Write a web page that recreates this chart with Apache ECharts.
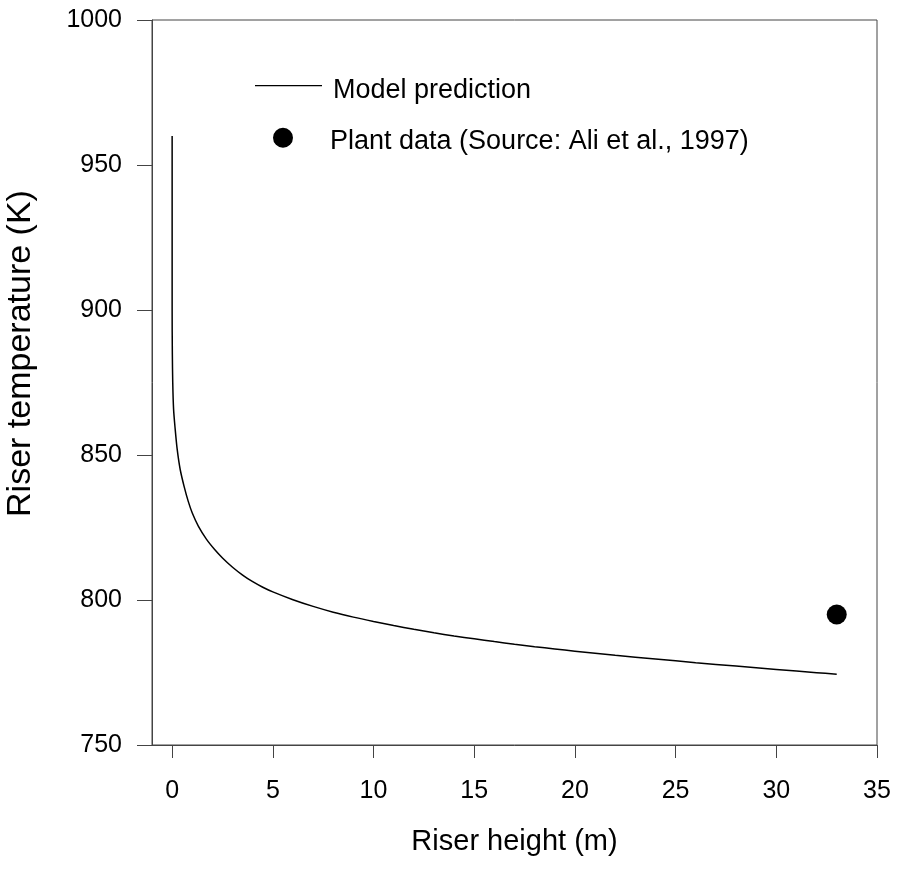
<!DOCTYPE html>
<html>
<head>
<meta charset="utf-8">
<script src="https://cdn.jsdelivr.net/npm/echarts@6/dist/echarts.min.js"></script>
<style>
html,body{margin:0;padding:0;background:#fff;}
#chart{width:897px;height:871px;}
</style>
</head>
<body>
<div id="chart"></div>
<script>
// Model prediction: riser height (m) vs riser temperature (K)
var modelHeight = [0, 0, 0.01, 0.03, 0.07, 0.15, 0.25, 0.4, 0.6, 0.8, 1.0, 1.3, 1.7, 2.1, 2.5, 3, 3.5, 4, 4.5, 5, 6, 7, 8, 9, 10, 11, 12, 13, 14, 15, 16, 17, 18, 19, 20, 22, 24, 26, 28, 30, 32, 33];
var modelTemp   = [960, 900, 885, 875, 866, 859, 852, 845, 839, 834, 830, 825.5, 821, 817.5, 814.5, 811.3, 808.6, 806.3, 804.4, 802.8, 800.1, 797.8, 795.8, 794.1, 792.6, 791.2, 789.9, 788.7, 787.6, 786.6, 785.65, 784.75, 783.9, 783.1, 782.35, 780.95, 779.65, 778.4, 777.2, 776.05, 774.95, 774.4];
// Plant data (Source: Ali et al., 1997)
var plantHeight = [33];
var plantTemp   = [795];
// Axis ticks
var xTicks = [0, 5, 10, 15, 20, 25, 30, 35];
var yTicks = [750, 800, 850, 900, 950, 1000];

var FONT = "'Liberation Sans', Arial, Helvetica, sans-serif";
var modelData = modelHeight.map(function (h, i) { return [h, modelTemp[i]]; });
var plantData = plantHeight.map(function (h, i) { return [h, plantTemp[i]]; });

// legend icons (line sits at top of its icon box, dot slightly above centre)
var lineIcon = 'path://M0,0H67V1.3H0Z M73,12L73.001,12Z';
var dotIcon = 'path://M0,10A10,10,0,1,0,20,10A10,10,0,1,0,0,10Z M52,28L52.001,28Z';

var chart = echarts.init(document.getElementById('chart'), null, {renderer: 'canvas'});
chart.setOption({
  animation: false,
  backgroundColor: '#fff',
  textStyle: {fontFamily: FONT, color: '#000'},
  grid: {
    left: 152, right: 20, top: 20, bottom: 126,
    show: true, borderColor: '#444', borderWidth: 1, backgroundColor: 'transparent',
    containLabel: false, outerBoundsMode: 'none'
  },
  legend: [
    {
      data: [{name: 'Model prediction', icon: lineIcon, itemStyle: {color: '#000', opacity: 1, borderWidth: 0}}],
      left: 255, top: 77.4, padding: 0,
      itemWidth: 73, itemHeight: 12, symbolKeepAspect: true,
      textStyle: {fontFamily: FONT, fontSize: 27, color: '#000', lineHeight: 27},
      selectedMode: false
    },
    {
      data: [{name: 'Plant data (Source: Ali et al., 1997)', icon: dotIcon, itemStyle: {color: '#000', opacity: 1, borderWidth: 0}}],
      left: 273, top: 127.7, padding: 0,
      itemWidth: 52, itemHeight: 28, symbolKeepAspect: true,
      textStyle: {fontFamily: FONT, fontSize: 27, color: '#000', lineHeight: 27},
      selectedMode: false
    }
  ],
  xAxis: {
    type: 'value', min: -1, max: 35,
    name: 'Riser height (m)', nameLocation: 'middle', nameGap: 82, nameMoveOverlap: false,
    nameTextStyle: {fontFamily: FONT, fontSize: 29, color: '#000'},
    axisLine: {show: true, onZero: false, lineStyle: {color: '#444', width: 1}},
    axisTick: {show: true, inside: false, length: 13, customValues: xTicks, lineStyle: {color: '#444', width: 1}},
    axisLabel: {show: true, customValues: xTicks, margin: 34, fontFamily: FONT, fontSize: 25, color: '#000',
      showMinLabel: true, showMaxLabel: true, hideOverlap: false,
      formatter: function (v) { return String(v); }},
    splitLine: {show: false}
  },
  yAxis: {
    type: 'value', min: 750, max: 1000, interval: 50,
    name: 'Riser temperature (K)', nameLocation: 'middle', nameGap: 114, nameRotate: 90, nameMoveOverlap: false,
    nameTextStyle: {fontFamily: FONT, fontSize: 34, color: '#000', padding: [0, 0, 0, 58]},
    axisLine: {show: true, onZero: false, lineStyle: {color: '#444', width: 1}},
    axisTick: {show: true, inside: false, length: 15, customValues: yTicks, lineStyle: {color: '#444', width: 1}},
    axisLabel: {show: true, customValues: yTicks, margin: 30, fontFamily: FONT, fontSize: 25, color: '#000',
      showMinLabel: true, showMaxLabel: true, hideOverlap: false,
      formatter: function (v) { return String(v); }},
    splitLine: {show: false}
  },
  series: [
    {
      name: 'Model prediction', type: 'line', data: modelData,
      showSymbol: false, symbol: 'none', smooth: 0.3,
      color: '#000',
      lineStyle: {color: '#000', width: 1.5, opacity: 1},
      itemStyle: {color: '#000', opacity: 1},
      silent: true
    },
    {
      name: 'Plant data (Source: Ali et al., 1997)', type: 'scatter', data: plantData,
      symbol: 'circle', symbolSize: 20,
      color: '#000',
      itemStyle: {color: '#000', opacity: 1},
      silent: true
    }
  ]
});
</script>
</body>
</html>
